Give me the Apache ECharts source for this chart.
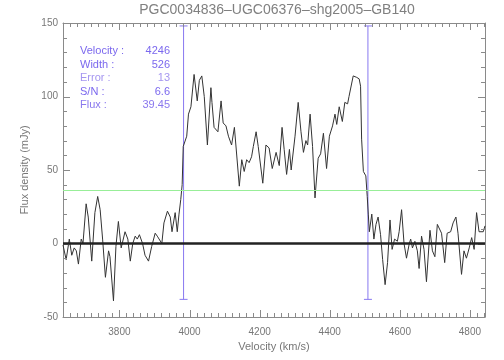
<!DOCTYPE html>
<html>
<head>
<meta charset="utf-8">
<script src="https://cdn.jsdelivr.net/npm/echarts@6/dist/echarts.min.js"></script>
<style>
    html, body { margin: 0; padding: 0; background: #fff; }
    #chart { width: 504px; height: 360px; }
</style>
</head>
<body>
<div id="chart"></div>
<script>
// spectrum (km/s, mJy)
const velocity = [
    3639, 3648, 3657, 3664, 3671, 3677, 3683, 3691, 3696, 3705,
    3711, 3721, 3730, 3738, 3745, 3752, 3760, 3769, 3773, 3783,
    3790, 3797, 3805, 3816, 3824, 3831, 3838, 3845, 3851, 3857,
    3866, 3873, 3883, 3892, 3902, 3908, 3913, 3921, 3927, 3937,
    3945, 3950, 3959, 3965, 3970, 3975, 3979, 3982, 3992, 3997,
    4004, 4013, 4022, 4028, 4035, 4042, 4051, 4061, 4064, 4070,
    4081, 4090, 4096, 4104, 4111, 4120, 4128, 4133, 4142, 4149,
    4156, 4163, 4170, 4177, 4182, 4190, 4196, 4209, 4218, 4227,
    4236, 4247, 4256, 4264, 4270, 4277, 4285, 4290, 4301, 4310,
    4318, 4325, 4332, 4337, 4344, 4351, 4358, 4367, 4374, 4382,
    4391, 4399, 4408, 4415, 4420, 4427, 4436, 4443, 4451, 4455,
    4467, 4477, 4484, 4488, 4491, 4496, 4503, 4507, 4510, 4513,
    4520, 4526, 4532, 4538, 4545, 4551, 4558, 4565, 4572, 4578,
    4585, 4593, 4598, 4605, 4612, 4619, 4627, 4631, 4636, 4643,
    4650, 4655, 4662, 4669, 4676, 4686, 4693, 4700, 4707, 4712,
    4719, 4728, 4735, 4745, 4752, 4760, 4766, 4776, 4783, 4790,
    4798, 4805, 4812, 4819, 4826, 4838, 4843
]
const flux = [
    -1, -11, 3, -8, -3, -5, -14, 3, 0, 27,
    18, -12, 21, 32, 23, 3, -23, -5, -9, -39,
    -2, 15, -3, 8, 3, -12, 0, 5, 3, 6,
    0, -8, -12, -2, 7, 5, 6, 0, 14, 22,
    18, 8, 21, 8, 20, 30, 40, 66, 73, 88,
    93, 115, 97, 111, 114, 100, 67, 106, 96, 79,
    76, 97, 82, 80, 73, 67, 79, 78, 39, 57,
    49, 57, 55, 59, 66, 76, 66, 41, 67, 65,
    51, 62, 53, 79, 64, 47, 64, 50, 73, 96,
    76, 62, 70, 67, 88, 66, 31, 58, 61, 75,
    51, 73, 80, 88, 81, 93, 83, 96, 95, 100,
    114, 113, 112, 107, 71, 49, 46, 32, 20, 8,
    20, 3, 13, 18, 6, -11, -28, -13, 16, -4,
    3, 1.5, 8, 23, 0, -10, 0, 3, -3, 1.5,
    -5, -17, 5, -4, -26, 9, -5, -9, 13, 14,
    7, -13, 7, 8, 14, 18, 7, -21, -5, -10,
    -3, 4, -4, 21, 8, 8, 12
]

// vertical markers at the edges of the line, and the green level
const edgeVelocity = [3983, 4509]
const edgeRange = [-38, 148]
const levelFlux = 36

const xRange = [3639, 4843]
const yRange = [-50, 150]
const xMajor = [3800, 4000, 4200, 4400, 4600, 4800]
const yMajor = [-50, 0, 50, 100, 150]
const xMinor = []
for (let v = 3640; v <= 4840; v += 20) xMinor.push(v)
const yMinor = []
for (let f = -50; f <= 150; f += 10) yMinor.push(f)

const infoLabels = ['Velocity :', 'Width :', 'Error :', 'S/N :', 'Flux :']
const infoValues = ['4246', '526', '13', '6.6', '39.45']
const infoColors = ['#7b68ee', '#7b68ee', '#a596f0', '#7b68ee', '#8a78ee']

const titleText = 'PGC0034836\u2013UGC06376\u2013shg2005\u2013GB140'

const FONT = 'Liberation Sans'
const AXIS = '#8a8a8a'
const TEXT = '#777'

function xAxisOf(position, labels) {
    return {
        type: 'value',
        position: position,
        min: xRange[0],
        max: xRange[1],
        name: labels ? 'Velocity (km/s)' : '',
        nameLocation: 'middle',
        nameGap: 21,
        nameTextStyle: { color: TEXT, fontFamily: FONT, fontSize: 11 },
        axisLine: { show: true, onZero: false, lineStyle: { color: AXIS, width: 1 } },
        axisTick: { show: false },
        axisLabel: {
            show: labels, customValues: xMajor, margin: 10,
            formatter: v => String(v),
            color: TEXT, fontFamily: FONT, fontSize: 10
        },
        splitLine: { show: false }
    }
}

function yAxisOf(position, labels) {
    return {
        type: 'value',
        position: position,
        min: yRange[0],
        max: yRange[1],
        interval: 50,
        name: labels ? 'Flux density (mJy)' : '',
        nameLocation: 'middle',
        nameGap: 33,
        nameTextStyle: { color: TEXT, fontFamily: FONT, fontSize: 11 },
        axisLine: { show: true, onZero: false, lineStyle: { color: AXIS, width: 1 } },
        axisTick: { show: false },
        axisLabel: {
            show: labels, margin: 5, formatter: v => String(v),
            color: TEXT, fontFamily: FONT, fontSize: 10
        },
        splitLine: { show: false }
    }
}

// inward ticks on all four sides, placed through the axes' own scales
const crisp = p => Math.round(p) + 0.5
function tickLine(x1, y1, x2, y2) {
    return { type: 'line', shape: { x1: x1, y1: y1, x2: x2, y2: y2 }, style: { stroke: AXIS, lineWidth: 1 } }
}
const xTickSeries = {
    type: 'custom',
    silent: true,
    z: 3,
    data: xMinor.map(v => [v, yRange[0], xMajor.includes(v) ? 7 : 4]),
    renderItem: (params, api) => {
        const v = api.value(0), len = api.value(2)
        const lo = api.coord([v, yRange[0]]), hi = api.coord([v, yRange[1]])
        const x = crisp(lo[0])
        return {
            type: 'group',
            children: [tickLine(x, lo[1], x, lo[1] - len), tickLine(x, hi[1], x, hi[1] + len)]
        }
    }
}
const yTickSeries = {
    type: 'custom',
    silent: true,
    z: 3,
    data: yMinor.map(f => [xRange[0], f, yMajor.includes(f) ? 7 : 4]),
    renderItem: (params, api) => {
        const f = api.value(1), len = api.value(2)
        const lo = api.coord([xRange[0], f]), hi = api.coord([xRange[1], f])
        const y = crisp(lo[1])
        return {
            type: 'group',
            children: [tickLine(lo[0], y, lo[0] + len, y), tickLine(hi[0], y, hi[0] - len, y)]
        }
    }
}

const edgeSeries = edgeVelocity.map(v => ({
    type: 'line',
    data: edgeRange.map(f => [v, f]),
    symbol: 'rect',
    symbolSize: [8, 1],
    showSymbol: true,
    itemStyle: { color: '#8878f0' },
    lineStyle: { color: '#8878f0', width: 1 },
    silent: true,
    z: 1
}))

const graphics = [{
    type: 'text',
    x: 277, y: 10,
    style: {
        text: titleText, fill: '#808080', font: '14px "' + FONT + '"',
        textAlign: 'center', textVerticalAlign: 'middle'
    }
}]
infoLabels.forEach((lab, i) => {
    const y = 51 + i * 13.5
    graphics.push({
        type: 'text', x: 80, y: y,
        style: { text: lab, fill: infoColors[i], font: '11px "' + FONT + '"', textVerticalAlign: 'middle' }
    })
    graphics.push({
        type: 'text', x: 170, y: y,
        style: {
            text: infoValues[i], fill: infoColors[i], font: '11px "' + FONT + '"',
            textAlign: 'right', textVerticalAlign: 'middle'
        }
    })
})

const chart = echarts.init(document.getElementById('chart'))
chart.setOption({
    animation: false,
    grid: { left: 63, right: 19, top: 23, bottom: 43 },
    xAxis: [xAxisOf('bottom', true), xAxisOf('top', false)],
    yAxis: [yAxisOf('left', true), yAxisOf('right', false)],
    graphic: graphics,
    series: [
        {
            type: 'line',
            data: velocity.map((v, i) => [v, flux[i]]),
            symbol: 'none',
            lineStyle: { color: '#333', width: 1 },
            silent: true,
            z: 2,
            markLine: {
                silent: true,
                symbol: 'none',
                label: { show: false },
                data: [
                    { yAxis: 0, lineStyle: { color: '#222', width: 2.5, type: 'solid' } },
                    { yAxis: levelFlux, lineStyle: { color: '#98ee98', width: 1, type: 'solid' } }
                ]
            }
        },
        ...edgeSeries,
        xTickSeries,
        yTickSeries
    ]
})
</script>
</body>
</html>
